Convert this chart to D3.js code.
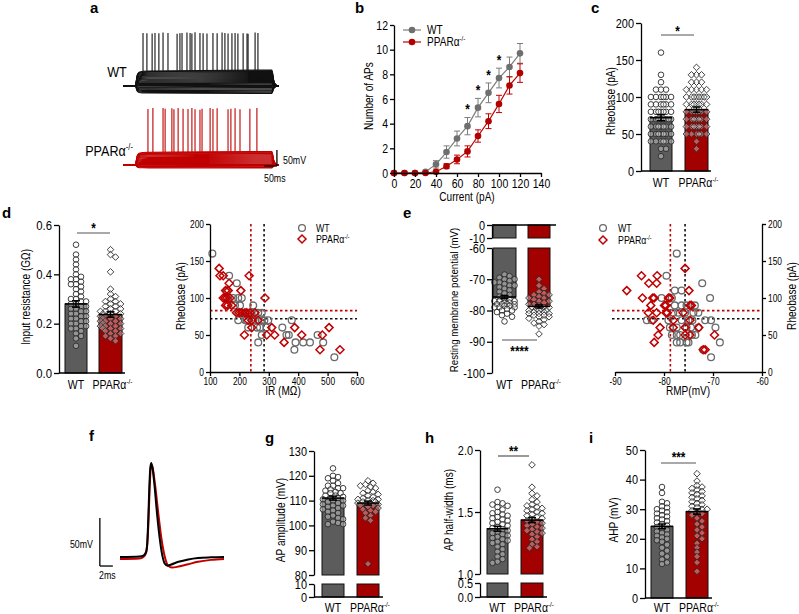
<!DOCTYPE html>
<html><head><meta charset="utf-8">
<script src="https://cdn.jsdelivr.net/npm/d3@7"></script>
<style>
body{margin:0;background:#fff}
svg{display:block;font-family:"Liberation Sans Narrow","Arial Narrow","Liberation Sans",Arial,sans-serif}
</style></head><body>
<svg id="fig" width="799" height="614"></svg>
<script>
// ================= DATA =================
const groups = ["WT", "PPARα"];
const groupSup = "-/-";
// panel a: example traces
const stepShape = [[0,0],[50,0],[51,0.3],[53,0.6],[56,0.8],[62,0.92],[75,0.98],[100,1],[300,1.03],[572,1.06],[575,0.9],[578,0.5],[582,0.22],[588,0.07],[595,0.02],[600,0]];
const wtSweeps = [-22,-20,-17,-14,-12,-9,-6,-4,-1,2,5,8,10,13,16,19,22,25,28,31,34,37,40,43,45,47];
const koSweeps = [-9,-7,-5,-3,-1,0,2,5,8,11,14,17,20,23,26,29,32,34,36,38,40];
const wtSpikeT = [77,92,112,123,138,154,173,208,219,227,246,258,265,277,296,308,323,346,362,381,392,404,419,431,442,462,477,481,508,519];
const wtSpikePk = [96,95,94,96,95,97,96,93,95,96,97,96,94,98,96,95,94,96,95,97,96,94,95,96,94,95,94,93,97,96];
const koSpikeT = [96,115,154,162,188,196,212,231,250,265,277,296,304,335,346,362,404,415,431,450,488,515];
const koSpikePk = [105,108,108,106,107,104,108,106,105,108,104,103,106,108,105,107,104,106,107,104,106,108];
// panel b: number of APs vs current
const bCurrent = [0,10,20,30,40,50,60,70,80,90,100,110,120];
const bWT    = [0,0,0,0.1,0.7,1.7,2.8,3.8,5.3,6.5,7.7,8.6,9.7];
const bWTerr = [0,0,0,0.1,0.3,0.5,0.6,0.7,0.75,0.8,0.8,0.8,0.8];
const bKO    = [0,0,0,0,0.1,0.55,1.1,1.75,3.0,4.2,5.6,7.1,8.1];
const bKOerr = [0,0,0,0,0.1,0.2,0.35,0.45,0.5,0.6,0.7,0.7,0.75];
const bStars = [70,80,90,100];
const bXTicks = [0,20,40,60,80,100,120,140];
const bYTicks = [0,2,4,6,8,10,12];
// panel c: rheobase
const cWT = [160,130,120,110,110,110,100,100,100,100,100,100,90,90,90,90,90,90,80,80,80,80,80,80,80,70,70,70,70,70,70,70,70,60,60,60,60,60,60,60,50,50,50,50,50,50,50,40,40,40,40,40,40,30,30,20];
const cKO = [140,130,130,130,120,120,120,110,110,110,110,110,100,100,100,100,100,100,100,100,90,90,90,90,90,90,90,80,80,80,80,80,80,80,70,70,70,70,70,70,70,60,60,60,60,60,60,60,50,50,50,50,50,50,40,30];
const cMean = [72,83], cSem = [4,3.5];
const cTicks = [0,50,100,150,200];
// panel d left: input resistance (GΩ)
const dWT = [0.52,0.48,0.46,0.44,0.42,0.40,0.39,0.38,0.38,0.37,0.36,0.36,0.35,0.34,0.33,0.32,0.31,0.30,0.30,0.29,0.29,0.28,0.28,0.27,0.27,0.26,0.26,0.25,0.25,0.24,0.24,0.23,0.23,0.22,0.22,0.21,0.21,0.20,0.20,0.19,0.19,0.18,0.18,0.17,0.16,0.15,0.14,0.11];
const dKO = [0.50,0.48,0.47,0.41,0.34,0.32,0.31,0.30,0.29,0.29,0.28,0.28,0.27,0.27,0.26,0.26,0.25,0.25,0.25,0.24,0.24,0.24,0.23,0.23,0.23,0.22,0.22,0.22,0.21,0.21,0.21,0.20,0.20,0.20,0.19,0.19,0.19,0.18,0.18,0.18,0.17,0.17,0.16,0.16,0.15,0.15,0.14,0.13];
const dMean = [0.28,0.237], dSem = [0.013,0.011];
const dTicks = [0,0.2,0.4,0.6];
// panel d right: IR (MΩ) vs rheobase (pA)
const dsWT = [[108,160],[165,130],[191,120],[157,110],[162,100],[179,100],[196,100],[208,100],[185,90],[202,90],[247,90],[196,80],[213,80],[230,80],[264,80],[276,80],[196,70],[225,70],[247,70],[276,70],[298,70],[378,70],[230,60],[270,60],[292,60],[346,60],[360,50],[368,50],[276,50],[264,40],[391,40],[417,40],[440,40],[387,30],[466,50],[485,40],[523,20],[210,80],[220,70],[240,80],[255,70],[285,70],[260,60],[250,80]];
const dsKO = [[131,140],[134,130],[145,130],[165,120],[153,110],[162,110],[205,110],[145,100],[151,100],[157,100],[168,100],[287,100],[153,90],[174,90],[233,130],[208,80],[219,80],[236,80],[253,80],[242,70],[264,70],[310,60],[242,60],[388,60],[217,50],[293,50],[320,50],[412,50],[482,50],[352,40],[505,60],[474,30],[542,30],[190,80],[200,80],[225,80],[160,90],[230,70]];
const dsIRMean = [284,239];
const dsXTicks = [100,200,300,400,500,600];
const dsYTicks = [0,50,100,150,200];
// panel e left: resting membrane potential (mV)
const eWT = [-68.5,-69,-69.5,-70,-70,-70.5,-71,-71,-71.5,-72,-72,-72.5,-73,-73.5,-74,-74.5,-75,-75.5,-76,-76.5,-77,-77,-77,-77.5,-77.5,-78,-78,-78,-78,-78.5,-78.5,-79,-79,-79,-79.5,-80,-80,-80.5,-81,-81.5,-82,-83.5];
const eKO = [-70,-72,-73,-74,-74.5,-75,-75,-75.5,-76,-76,-76.5,-77,-77,-77.5,-78,-78,-78.5,-79,-79,-79,-79.5,-79.5,-80,-80,-80,-80.5,-80.5,-81,-81,-81,-81.5,-81.5,-82,-82,-82.5,-83,-83.5,-84,-84.5,-85,-87.5];
const eMean = [-75.7,-78.7], eSem = [0.5,0.5];
const eTicksTop = [0,-10], eTicksBot = [-60,-70,-80,-90,-100];
// panel e right: RMP vs rheobase
const esWT = [[-77.4,160],[-79.5,130],[-72.2,120],[-77.8,110],[-76.4,110],[-70.6,100],[-80.5,100],[-78.4,100],[-77.8,90],[-76.4,90],[-75.4,90],[-73.7,90],[-78.1,80],[-77.1,80],[-75.7,80],[-74,80],[-73,80],[-83.5,70],[-82.5,70],[-79.1,70],[-76.4,70],[-75,70],[-74.2,70],[-71.6,70],[-70.4,70],[-78.8,60],[-77.4,60],[-75.4,60],[-74.5,60],[-73,60],[-69.5,60],[-78.4,50],[-77.4,50],[-76.7,50],[-74.3,50],[-73.6,50],[-77.4,40],[-76.7,40],[-75.4,40],[-75,40],[-68.6,40],[-72,30],[-70.4,20]];
const esKO = [[-75.7,140],[-84.6,130],[-81.4,130],[-83.1,120],[-81.5,120],[-87.6,110],[-74.9,110],[-84.4,100],[-82.3,100],[-82,100],[-79.1,100],[-78.8,100],[-82.7,90],[-79.9,90],[-79.6,90],[-74.7,90],[-74.4,90],[-83.2,80],[-81.5,80],[-79.6,80],[-79.3,80],[-76.1,80],[-82.2,70],[-78.1,70],[-74.7,70],[-80.8,60],[-78.1,60],[-75.7,60],[-72.9,60],[-81.2,50],[-75.7,50],[-74.7,50],[-69.7,50],[-82,40],[-72,30],[-71.6,30]];
const esXTicks = [-90,-80,-70,-60];
// panel f: average AP waveform (ms, mV)
const fWT = [[0,-60],[3,-59.5],[3.6,-58.5],[4.0,-55],[4.2,-45],[4.35,-20],[4.5,10],[4.65,32],[4.8,38],[5.0,33],[5.3,15],[5.7,-15],[6.1,-40],[6.5,-58],[6.9,-67],[7.3,-69],[7.8,-68],[9,-65],[10.5,-62.5],[12,-61],[14,-60.3],[16,-60]];
const fKO = [[0,-62],[3,-61.5],[3.6,-60],[4.0,-56],[4.2,-46],[4.4,-20],[4.55,10],[4.7,30],[4.85,36],[5.05,32],[5.4,15],[5.9,-15],[6.4,-42],[6.9,-60],[7.4,-69],[8,-71],[9,-70],[10.5,-67.5],[12,-65],[14,-63],[16,-62]];
// panel g: AP amplitude (mV)
const gWT = [123,120,119.5,119,118,117,116,116,115,115,114.5,114,113.5,113,113,112,112,111.5,111,111,110.5,110,110,109.5,109,108.5,108,108,107.5,107,106.5,106,105.5,105,104,103.5,103,102.5,101.5,101,100.5,100.5];
const gKO = [118,117,116.5,116,115.5,115,114,113.5,113,112.5,112,111.5,111,110.5,110.5,110,110,109.5,109.5,109,109,108.5,108.5,108,108,107.5,107,106.5,106,105.5,105,104,103,102,84.5];
const gMean = [111,109], gSem = [0.8,0.8];
// panel h: AP half-width (ms)
const hWT = [1.68,1.58,1.57,1.56,1.55,1.54,1.52,1.50,1.49,1.48,1.47,1.46,1.45,1.44,1.43,1.42,1.41,1.40,1.39,1.38,1.37,1.36,1.35,1.34,1.33,1.32,1.31,1.30,1.29,1.28,1.27,1.26,1.25,1.24,1.22,1.20,1.18,1.16,1.14,1.12,1.10,1.09];
const hKO = [1.88,1.70,1.65,1.63,1.60,1.58,1.56,1.55,1.54,1.53,1.52,1.51,1.50,1.49,1.48,1.47,1.46,1.45,1.44,1.43,1.42,1.41,1.40,1.39,1.38,1.37,1.36,1.35,1.34,1.33,1.32,1.30,1.28,1.26,1.24,1.22,1.21];
const hMean = [1.365,1.435], hSem = [0.02,0.02];
// panel i: AHP (mV)
const iWT = [37.5,35.5,32.5,32,31,30.5,30,29.5,29,28.5,28,27.5,27,26.5,26,25.5,25,24.5,24,23.5,23,22.5,22,21.5,21,20.5,20,19.5,19,18,17,16,15,14,13,12,11.5];
const iKO = [42,39.5,38,37.5,37,36.5,36,35.5,35,34.5,34,33.5,33,32.5,32,31.5,31,30.5,30,30,29.5,29,28.5,28,27,26,25,24,23,22,21,20,18.5,17,15.5,14,12,9];
const iMean = [24.2,29.2], iSem = [0.8,0.9];

// ================= STYLE =================
const C_WT_BAR = "#5c5c5c", C_KO_BAR = "#a30000";
const C_WT_LINE = "#7d7d7d", C_KO_LINE = "#c00000";
const svg = d3.select("#fig");

function styleAxis(g, fs){
  g.attr("font-family", null).attr("font-size", fs);
  g.select(".domain").attr("stroke","#000").attr("stroke-width",1.3);
  g.selectAll(".tick line").attr("stroke","#000").attr("stroke-width",1.3);
  g.selectAll(".tick text").attr("fill","#000");
}
function plainFmt(d){ return String(d); }
function koLabel(sel, x, y, fs, anchor){
  const t = sel.append("text").attr("x",x).attr("y",y).attr("font-size",fs).attr("text-anchor",anchor||"middle");
  t.append("tspan").text(groups[1]);
  t.append("tspan").attr("dy",-fs*0.42).attr("font-size",fs*0.6).text(groupSup);
  return t;
}
function panelLabel(t,x,y){ svg.append("text").attr("class","nocomp").attr("x",x).attr("y",y).attr("font-size",15).attr("font-weight","bold").attr("font-family","Liberation Sans, Arial, sans-serif").text(t); }
function yTitle(t,x,y,fs){ svg.append("text").attr("transform",`translate(${x},${y}) rotate(-90)`).attr("text-anchor","middle").attr("font-size",fs||12).text(t); }
const diamond = r => `M0,${-r}L${r},0L0,${r}L${-r},0Z`;

function swarm(vals, y, half, r){
  const s = r*0.9, minD = r*1.5, placed = [];
  const pts = vals.map(v=>({v, y:y(v)})).sort((a,b)=>a.y-b.y);
  for(const p of pts){
    let best = 0, bestD = -1;
    for(let k=0;;k++){
      const off = k===0 ? 0 : (k%2 ? Math.ceil(k/2)*s : -Math.ceil(k/2)*s);
      if(Math.abs(off) > half) break;
      let md = Infinity;
      for(const q of placed){ const d = Math.hypot(q.x-off, q.y-p.y); if(d<md) md=d; }
      if(md >= minD){ best = off; bestD = md; break; }
      if(md > bestD){ bestD = md; best = off; }
    }
    p.x = best; placed.push(p);
  }
  return pts;
}

function barPanel(c){
  const g = svg.append("g");
  const segs = c.segs.map(s=>Object.assign({}, s, {sc: d3.scaleLinear(s.dom, s.rng)}));
  const yv = v => {
    for(const s of segs){ const lo=Math.min(...s.dom), hi=Math.max(...s.dom); if(v>=lo && v<=hi) return s.sc(v); }
    return segs[segs.length-1].sc(v);
  };
  const bars = [
    {x0:c.bx[0][0], x1:c.bx[0][1], mean:c.mean[0], sem:c.sem[0], fill:C_WT_BAR, vals:c.vals[0], shape:"c"},
    {x0:c.bx[1][0], x1:c.bx[1][1], mean:c.mean[1], sem:c.sem[1], fill:C_KO_BAR, vals:c.vals[1], shape:"d"}
  ];
  bars.forEach(b=>{
    segs.forEach(s=>{
      const a = s.dom[0], e = s.dom[1], dir = Math.sign(e-a);
      if((b.mean-a)*dir <= 0) return;
      const m = dir>0 ? Math.min(b.mean,e) : Math.max(b.mean,e);
      const y1 = s.sc(a), y2 = s.sc(m);
      g.append("rect").attr("x",b.x0).attr("width",b.x1-b.x0).attr("y",Math.min(y1,y2)).attr("height",Math.abs(y2-y1))
        .attr("fill",b.fill).attr("stroke","#111").attr("stroke-width",1);
    });
  });
  bars.forEach(b=>{
    const cx = (b.x0+b.x1)/2, half = (b.x1-b.x0)/2 + 1;
    const pts = swarm(b.vals, yv, half, 2.8);
    pts.forEach(p=>{
      if(b.shape==="c"){
        g.append("circle").attr("cx",cx+p.x).attr("cy",p.y).attr("r",2.8).attr("fill","#fff").attr("fill-opacity",0.35).attr("stroke","#2a2a2a").attr("stroke-width",0.9);
      } else {
        g.append("path").attr("d",diamond(3.3)).attr("transform",`translate(${cx+p.x},${p.y})`).attr("fill","#fff").attr("fill-opacity",0.35).attr("stroke","#2a2a2a").attr("stroke-width",0.9);
      }
    });
  });
  bars.forEach(b=>{
    const cx = (b.x0+b.x1)/2, y1 = yv(b.mean-b.sem), y2 = yv(b.mean+b.sem);
    g.append("line").attr("x1",cx).attr("x2",cx).attr("y1",y1).attr("y2",y2).attr("stroke","#000").attr("stroke-width",1.5);
    [y1,y2].forEach(yy=>g.append("line").attr("x1",cx-4).attr("x2",cx+4).attr("y1",yy).attr("y2",yy).attr("stroke","#000").attr("stroke-width",1.5));
    g.append("line").attr("x1",b.x0).attr("x2",b.x1).attr("y1",yv(b.mean)).attr("y2",yv(b.mean)).attr("stroke","#000").attr("stroke-width",1.5);
  });
  segs.forEach(s=>{
    const ax = g.append("g").attr("transform",`translate(${c.axisX},0)`)
      .call(d3.axisLeft(s.sc).tickValues(s.ticks).tickSize(5).tickSizeOuter(0).tickPadding(2).tickFormat(c.fmt||plainFmt));
    styleAxis(ax, c.fs||13);
  });
  g.append("line").attr("x1",c.axisX).attr("x2",c.xEnd).attr("y1",c.baseY).attr("y2",c.baseY).attr("stroke","#000").attr("stroke-width",1.3);
  const fsCat = c.fsCat||12.5;
  g.append("text").attr("x",(bars[0].x0+bars[0].x1)/2).attr("y",c.catY).attr("text-anchor","middle").attr("font-size",fsCat).text(groups[0]);
  koLabel(g,(bars[1].x0+bars[1].x1)/2 + 2, c.catY, fsCat, "middle");
  if(c.sig){
    g.append("line").attr("x1",c.sig.x0).attr("x2",c.sig.x1).attr("y1",c.sig.y).attr("y2",c.sig.y).attr("stroke","#555").attr("stroke-width",1.2);
    g.append("text").attr("x",(c.sig.x0+c.sig.x1)/2).attr("y",c.sig.ty).attr("text-anchor","middle").attr("font-size",14).attr("font-weight","bold").text(c.sig.t);
  }
  return yv;
}

// ================= PANEL a =================
panelLabel("a", 90, 13);
(function(){
  const xa = d3.scaleLinear([0,600],[123,279]);
  const mk = (base0) => d3.scaleLinear([-70, -20], [base0, base0-16]);
  const draw = (ya, sweeps, spT, spPk, col, topAmp) => {
    const g = svg.append("g");
    sweeps.forEach(A=>{
      g.append("path").datum(stepShape)
        .attr("d", d3.line().x(d=>xa(d[0])).y(d=>ya(-70 + A*d[1])))
        .attr("fill","none").attr("stroke",col).attr("stroke-width",1.1);
    });
    const interp = t => { for(let i=1;i<stepShape.length;i++){ if(t<=stepShape[i][0]){ const [t0,f0]=stepShape[i-1],[t1,f1]=stepShape[i]; return f0+(f1-f0)*(t-t0)/(t1-t0);} } return 0; };
    spT.forEach((t,i)=>{
      g.append("line").attr("x1",xa(t)).attr("x2",xa(t)).attr("y1",ya(-70+topAmp*interp(t))).attr("y2",ya(spPk[i]))
        .attr("stroke",col).attr("stroke-width",1.1);
    });
  };
  draw(mk(86), wtSweeps, wtSpikeT, wtSpikePk, "#111", 47);
  draw(mk(165), koSweeps, koSpikeT, koSpikePk, "#c00000", 40);
  svg.append("text").attr("x",117).attr("y",77).attr("text-anchor","middle").attr("font-size",15).text(groups[0]);
  koLabel(svg, 133, 156, 15, "end");
  const ysb = mk(165);
  svg.append("line").attr("x1",xa(592)).attr("x2",xa(592)).attr("y1",ysb(-73)).attr("y2",ysb(-23)).attr("stroke","#000").attr("stroke-width",1.3);
  svg.append("line").attr("x1",xa(542)).attr("x2",xa(592)).attr("y1",ysb(-73)).attr("y2",ysb(-73)).attr("stroke","#000").attr("stroke-width",1.3);
  svg.append("text").attr("x",283).attr("y",164).attr("font-size",10.5).text("50mV");
  svg.append("text").attr("x",264).attr("y",182).attr("font-size",10.5).text("50ms");
})();

// ================= PANEL b =================
panelLabel("b", 355, 13);
(function(){
  const xb = d3.scaleLinear([0,140],[394,541]);
  const yb = d3.scaleLinear([0,12],[173,25]);
  const g = svg.append("g");
  const series = [
    {m:bWT, e:bWTerr, col:C_WT_LINE, fill:"#6f6f6f"},
    {m:bKO, e:bKOerr, col:C_KO_LINE, fill:"#b00000"}
  ];
  series.forEach(s=>{
    g.append("path").datum(bCurrent).attr("d", d3.line().x(d=>xb(d)).y((d,i)=>yb(s.m[i]))).attr("fill","none").attr("stroke",s.col).attr("stroke-width",1.2);
    bCurrent.forEach((c,i)=>{
      if(s.e[i]>0.15){
        const x=xb(c), y1=yb(s.m[i]-s.e[i]), y2=yb(s.m[i]+s.e[i]);
        g.append("line").attr("x1",x).attr("x2",x).attr("y1",y1).attr("y2",y2).attr("stroke",s.col).attr("stroke-width",1);
        [y1,y2].forEach(yy=>g.append("line").attr("x1",x-3).attr("x2",x+3).attr("y1",yy).attr("y2",yy).attr("stroke",s.col).attr("stroke-width",1));
      }
    });
  });
  series.forEach(s=>{
    bCurrent.forEach((c,i)=>g.append("circle").attr("cx",xb(c)).attr("cy",yb(s.m[i])).attr("r",3.3).attr("fill",s.fill));
  });
  bStars.forEach(c=>{
    const i = bCurrent.indexOf(c);
    g.append("text").attr("x",xb(c)).attr("y",yb(bWT[i]+bWTerr[i])-3).attr("text-anchor","middle").attr("font-size",14).attr("font-weight","bold").text("*");
  });
  const ax = g.append("g").attr("transform","translate(0,173)").call(d3.axisBottom(xb).tickValues(bXTicks).tickSize(4).tickSizeOuter(0).tickPadding(2));
  styleAxis(ax, 12.5);
  const ay = g.append("g").attr("transform","translate(394,0)").call(d3.axisLeft(yb).tickValues(bYTicks).tickSize(4).tickSizeOuter(0).tickPadding(2));
  styleAxis(ay, 12.5);
  g.append("text").attr("x",467).attr("y",201).attr("text-anchor","middle").attr("font-size",12).text("Current (pA)");
  yTitle("Number of APs", 373, 96, 12);
  [[30, C_WT_LINE, "#6f6f6f"],[42, C_KO_LINE, "#b00000"]].forEach((L,k)=>{
    g.append("line").attr("x1",403).attr("x2",421).attr("y1",L[0]).attr("y2",L[0]).attr("stroke",L[1]).attr("stroke-width",1.2);
    g.append("circle").attr("cx",412).attr("cy",L[0]).attr("r",3.3).attr("fill",L[2]);
    if(k===0) g.append("text").attr("x",427).attr("y",L[0]+4).attr("font-size",12).text(groups[0]);
    else koLabel(g, 427, L[0]+4, 12, "start");
  });
})();

// ================= PANEL c =================
panelLabel("c", 591, 13);
barPanel({axisX:641, segs:[{dom:[0,200], rng:[171,23], ticks:cTicks}], bx:[[650,672],[685,708]],
  mean:cMean, sem:cSem, vals:[cWT,cKO], baseY:171, xEnd:711, catY:187, fs:13,
  sig:{x0:661,x1:694,y:35,ty:36.5,t:"*"}});
yTitle("Rheobase (pA)", 615, 101, 12);

// ================= PANEL d left =================
panelLabel("d", 2, 218);
barPanel({axisX:59, segs:[{dom:[0,0.6], rng:[373,225], ticks:dTicks}], bx:[[65,87],[99,122]], fmt:d3.format(".1f"),
  mean:dMean, sem:dSem, vals:[dWT,dKO], baseY:373, xEnd:125, catY:389, fs:13.5,
  sig:{x0:77,x1:110,y:233,ty:233.5,t:"*"}});
yTitle("Input resistance (GΩ)", 30, 297, 12);

// ================= PANEL d right =================
(function(){
  const xs = d3.scaleLinear([100,600],[210,357]);
  const ys = d3.scaleLinear([0,200],[372,224]);
  const g = svg.append("g");
  const dash = (x1,x2,y1,y2,col)=>g.append("line").attr("x1",x1).attr("x2",x2).attr("y1",y1).attr("y2",y2).attr("stroke",col).attr("stroke-width",1.6).attr("stroke-dasharray","2.5,2.5");
  dash(xs(dsIRMean[0]),xs(dsIRMean[0]),224,372,"#111");
  dash(xs(dsIRMean[1]),xs(dsIRMean[1]),224,372,"#c00000");
  dash(210,357,ys(cMean[0]),ys(cMean[0]),"#111");
  dash(210,357,ys(cMean[1]),ys(cMean[1]),"#c00000");
  dsWT.forEach(p=>g.append("circle").attr("cx",xs(p[0])).attr("cy",ys(p[1])).attr("r",3.4).attr("fill","none").attr("stroke","#6a6a6a").attr("stroke-width",1.3));
  dsKO.forEach(p=>g.append("path").attr("d",diamond(4)).attr("transform",`translate(${xs(p[0])},${ys(p[1])})`).attr("fill","none").attr("stroke","#c00000").attr("stroke-width",1.5));
  const ax = g.append("g").attr("transform","translate(0,372)").call(d3.axisBottom(xs).tickValues(dsXTicks).tickSize(4).tickSizeOuter(0).tickPadding(2));
  styleAxis(ax, 10);
  const ay = g.append("g").attr("transform","translate(210,0)").call(d3.axisLeft(ys).tickValues(dsYTicks).tickSize(4).tickSizeOuter(0).tickPadding(2));
  styleAxis(ay, 10);
  g.append("text").attr("x",283).attr("y",395).attr("text-anchor","middle").attr("font-size",12).text("IR (MΩ)");
  yTitle("Rheobase (pA)", 185, 296, 12);
  g.append("circle").attr("cx",302).attr("cy",228).attr("r",3.4).attr("fill","none").attr("stroke","#6a6a6a").attr("stroke-width",1.3);
  g.append("text").attr("x",316).attr("y",232).attr("font-size",10.5).text(groups[0]);
  g.append("path").attr("d",diamond(4)).attr("transform","translate(302,239)").attr("fill","none").attr("stroke","#c00000").attr("stroke-width",1.5);
  koLabel(g, 316, 243, 10.5, "start");
})();

// ================= PANEL e left =================
panelLabel("e", 403, 218);
barPanel({axisX:492, segs:[{dom:[0,-10], rng:[225,238], ticks:eTicksTop},{dom:[-60,-100], rng:[248,373], ticks:eTicksBot}],
  bx:[[493,516],[528,550]], mean:eMean, sem:eSem, vals:[eWT,eKO], baseY:225, xEnd:556, catY:389, fs:13,
  sig:{x0:502,x1:537,y:340,ty:356.5,t:"****"}});
yTitle("Resting membrane potential (mV)", 458, 300, 11.5);

// ================= PANEL e right =================
(function(){
  const xs = d3.scaleLinear([-90,-60],[615,762]);
  const ys = d3.scaleLinear([0,200],[372,224]);
  const g = svg.append("g");
  const dash = (x1,x2,y1,y2,col)=>g.append("line").attr("x1",x1).attr("x2",x2).attr("y1",y1).attr("y2",y2).attr("stroke",col).attr("stroke-width",1.6).attr("stroke-dasharray","2.5,2.5");
  dash(xs(eMean[0]),xs(eMean[0]),224,372,"#111");
  dash(xs(eMean[1]),xs(eMean[1]),224,372,"#c00000");
  dash(612,762,ys(cMean[1]),ys(cMean[1]),"#c00000");
  dash(612,762,ys(cMean[0]),ys(cMean[0]),"#111");
  esWT.forEach(p=>g.append("circle").attr("cx",xs(p[0])).attr("cy",ys(p[1])).attr("r",3.4).attr("fill","none").attr("stroke","#6a6a6a").attr("stroke-width",1.3));
  esKO.forEach(p=>g.append("path").attr("d",diamond(4)).attr("transform",`translate(${xs(p[0])},${ys(p[1])})`).attr("fill","none").attr("stroke","#c00000").attr("stroke-width",1.5));
  const ax = g.append("g").attr("transform","translate(0,372)").call(d3.axisBottom(xs).tickValues(esXTicks).tickSize(4).tickSizeOuter(0).tickPadding(2).tickFormat(plainFmt));
  styleAxis(ax, 10);
  const ay = g.append("g").attr("transform","translate(762,0)").call(d3.axisRight(ys).tickValues(dsYTicks).tickSize(4).tickSizeOuter(0).tickPadding(2));
  styleAxis(ay, 10);
  g.append("text").attr("x",688).attr("y",395).attr("text-anchor","middle").attr("font-size",12).text("RMP(mV)");
  yTitle("Rheobase (pA)", 796, 296, 12);
  g.append("circle").attr("cx",603).attr("cy",228).attr("r",3.4).attr("fill","none").attr("stroke","#6a6a6a").attr("stroke-width",1.3);
  g.append("text").attr("x",618).attr("y",232).attr("font-size",10.5).text(groups[0]);
  g.append("path").attr("d",diamond(4)).attr("transform","translate(603,240)").attr("fill","none").attr("stroke","#c00000").attr("stroke-width",1.5);
  koLabel(g, 618, 244, 10.5, "start");
})();

// ================= PANEL f =================
panelLabel("f", 89, 441);
(function(){
  const xf = d3.scaleLinear([0,16],[120,224]);
  const yf = d3.scaleLinear([-60,40],[557,461]);
  const ln = d3.line().x(d=>xf(d[0])).y(d=>yf(d[1])).curve(d3.curveMonotoneX);
  svg.append("path").datum(fKO).attr("d",ln).attr("fill","none").attr("stroke","#c00000").attr("stroke-width",2);
  svg.append("path").datum(fWT).attr("d",ln).attr("fill","none").attr("stroke","#000").attr("stroke-width",2);
  svg.append("line").attr("x1",xf(-3.1)).attr("x2",xf(-3.1)).attr("y1",yf(-69.4)).attr("y2",yf(-19.4)).attr("stroke","#000").attr("stroke-width",1.3);
  svg.append("line").attr("x1",xf(-3.1)).attr("x2",xf(-1.1)).attr("y1",yf(-69.4)).attr("y2",yf(-69.4)).attr("stroke","#000").attr("stroke-width",1.3);
  svg.append("text").attr("x",93).attr("y",548).attr("text-anchor","end").attr("font-size",10.5).text("50mV");
  svg.append("text").attr("x",99).attr("y",579).attr("font-size",10.5).text("2ms");
})();

// ================= PANEL g =================
panelLabel("g", 265, 443);
barPanel({axisX:314, segs:[{dom:[0,10], rng:[597,584], ticks:[0,10]},{dom:[80,130], rng:[575,451], ticks:[80,90,100,110,120,130]}],
  bx:[[322,344],[357,379]], mean:gMean, sem:gSem, vals:[gWT,gKO], baseY:597, xEnd:383, catY:612, fs:13});
yTitle("AP amplitude (mV)", 285, 520, 12);

// ================= PANEL h =================
panelLabel("h", 425, 443);
barPanel({axisX:480, segs:[{dom:[0,0.5], rng:[597,583], ticks:[0,0.5]},{dom:[1,2], rng:[574,450], ticks:[1,1.5,2]}], fmt:d3.format(".1f"),
  bx:[[487,508],[521,543]], mean:hMean, sem:hSem, vals:[hWT,hKO], baseY:597, xEnd:547, catY:612, fs:13,
  sig:{x0:498,x1:529,y:456,ty:456.5,t:"**"}});
yTitle("AP half-width (ms)", 453, 510, 12);

// ================= PANEL i =================
panelLabel("i", 589, 443);
barPanel({axisX:645, segs:[{dom:[0,50], rng:[598,450], ticks:[0,10,20,30,40,50]}],
  bx:[[651,673],[686,708]], mean:iMean, sem:iSem, vals:[iWT,iKO], baseY:598, xEnd:712, catY:612, fs:13,
  sig:{x0:661,x1:696,y:463,ty:462.5,t:"***"}});
yTitle("AHP (mV)", 618, 520, 12);

// ========= narrow the (Arial-like) text horizontally, as in the condensed reference font =========
svg.selectAll("text").each(function(){
  const t = d3.select(this);
  if(t.classed("nocomp")) return;
  const x0 = +t.attr("x") || 0;
  const tr = t.attr("transform") || "";
  t.attr("transform", `${tr} translate(${x0},0) scale(0.84,1) translate(${-x0},0)`);
});
</script>
</body></html>
